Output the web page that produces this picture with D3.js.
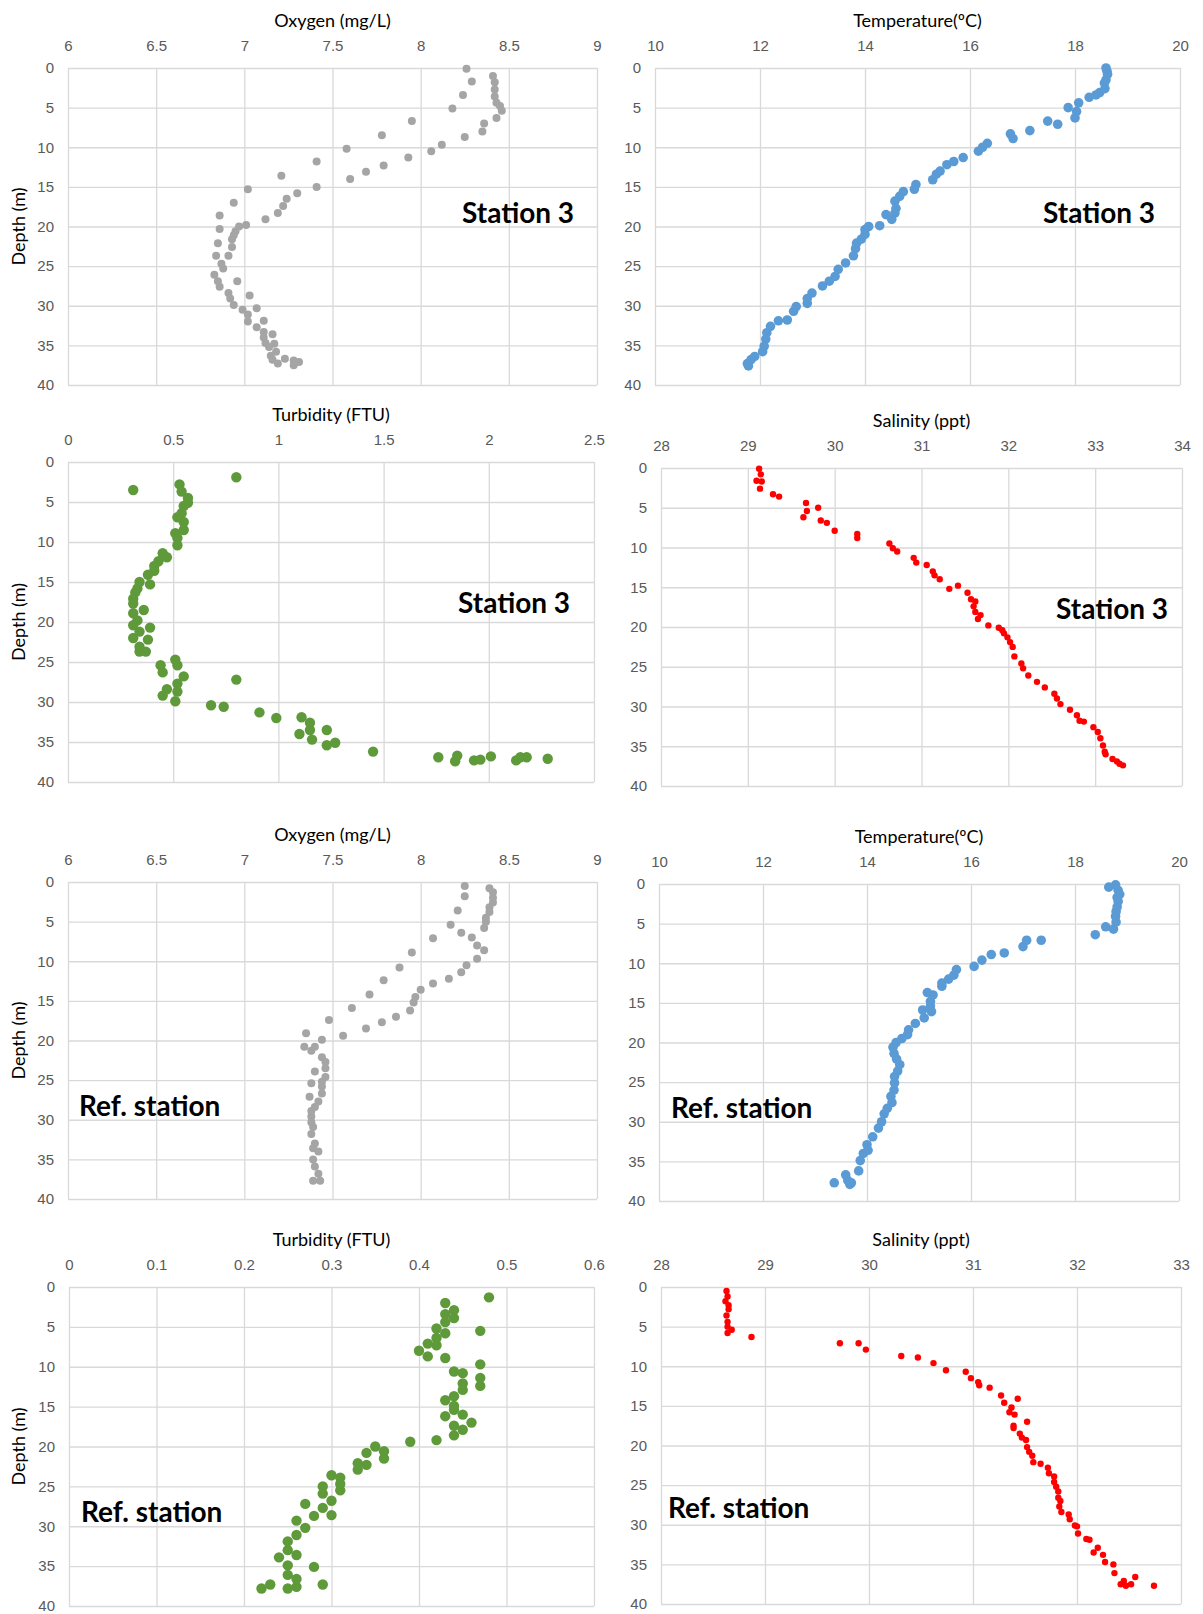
<!DOCTYPE html>
<html>
<head>
<meta charset="utf-8">
<script src="https://cdn.jsdelivr.net/npm/d3@7"></script>
<style>
  body { margin: 0; background: #fff; }
  svg { display: block; font-family: Lato, "Open Sans", sans-serif; }
  .tick line { stroke: #d9d9d9; stroke-width: 1.3; }
  .tick text { fill: #595959; font-size: 15px; }
  .domain { display: none; }
</style>
</head>
<body>
<svg id="chart" width="1203" height="1614"></svg>
<script>
// each point is [value, depth (m)]
var oxySt3 = [
  [8.26,0.1],[8.41,1.0],[8.29,1.7],[8.42,1.8],[8.42,2.7],[8.24,3.4],[8.42,3.6],[8.43,4.4],
  [8.45,4.8],[8.18,5.1],[8.46,5.4],[8.43,6.3],[7.95,6.7],[8.36,7.0],[8.35,8.0],[7.78,8.5],
  [8.25,8.7],[8.12,9.7],[7.58,10.2],[8.06,10.5],[7.93,11.3],[7.41,11.8],[7.79,12.3],[7.69,13.1],
  [7.21,13.6],[7.60,14.0],[7.41,15.0],[7.02,15.3],[7.30,15.8],[7.24,16.5],[6.94,17.0],[7.22,17.4],
  [7.19,18.3],[6.86,18.6],[7.12,19.1],[7.01,19.8],[6.97,20.0],[6.86,20.3],[6.95,20.6],[6.94,21.1],
  [6.93,21.6],[6.85,22.1],[6.93,22.6],[6.84,23.7],[6.91,23.7],[6.87,24.7],[6.88,25.3],[6.83,26.1],
  [6.85,26.9],[6.96,26.9],[6.86,27.6],[6.91,28.4],[7.03,28.7],[6.92,29.1],[6.94,29.9],[7.07,30.3],
  [6.99,30.5],[7.02,31.1],[7.02,32.0],[7.11,31.9],[7.07,32.7],[7.11,33.3],[7.16,33.6],[7.11,34.0],
  [7.12,34.7],[7.17,34.8],[7.14,35.2],[7.18,35.8],[7.15,36.3],[7.23,36.7],[7.16,36.8],[7.28,36.9],
  [7.31,37.1],[7.19,37.3],[7.28,37.5]
];

var tempSt3 = [
  [18.59,0.0],[18.61,0.4],[18.62,0.8],[18.59,1.5],[18.56,1.9],[18.57,2.6],[18.47,3.1],[18.40,3.4],
  [18.27,3.7],[18.07,4.4],[17.87,5.0],[18.03,5.5],[18.00,6.3],[17.48,6.7],[17.67,7.1],[17.14,7.9],
  [16.77,8.3],[16.82,8.9],[16.33,9.5],[16.24,10.0],[16.16,10.5],[15.87,11.3],[15.69,11.8],[15.56,12.2],
  [15.43,13.0],[15.36,13.4],[15.29,14.1],[14.97,14.7],[14.94,15.3],[14.73,15.6],[14.66,16.2],[14.57,16.8],
  [14.59,17.7],[14.57,18.3],[14.40,18.5],[14.51,19.1],[14.28,19.9],[14.07,20.0],[14.00,20.4],[14.00,21.0],
  [13.93,21.6],[13.84,22.1],[13.82,22.8],[13.78,23.7],[13.63,24.6],[13.49,25.4],[13.43,26.3],[13.32,26.9],
  [13.19,27.5],[12.99,28.4],[12.90,29.1],[12.90,29.7],[12.69,30.1],[12.64,30.7],[12.52,31.8],[12.35,31.9],
  [12.20,32.6],[12.13,33.4],[12.11,34.2],[12.08,35.1],[12.05,35.8],[11.90,36.4],[11.83,36.8],[11.76,37.3],
  [11.78,37.6]
];

var turbSt3 = [
  [0.80,1.9],[0.53,2.8],[0.31,3.5],[0.54,3.7],[0.57,4.5],[0.57,5.1],[0.55,5.5],[0.54,6.4],
  [0.52,6.9],[0.55,7.5],[0.55,8.5],[0.51,8.9],[0.52,9.5],[0.52,10.4],[0.45,11.4],[0.47,11.9],
  [0.43,12.4],[0.41,13.0],[0.41,13.6],[0.38,14.1],[0.34,15.0],[0.39,15.3],[0.33,15.8],[0.32,16.3],
  [0.31,17.1],[0.31,17.7],[0.36,18.5],[0.31,18.9],[0.33,19.8],[0.31,20.4],[0.39,20.7],[0.34,21.2],
  [0.31,22.0],[0.38,22.2],[0.34,23.1],[0.37,23.7],[0.34,23.7],[0.51,24.7],[0.52,25.4],[0.44,25.4],
  [0.45,26.3],[0.55,26.8],[0.80,27.2],[0.52,27.7],[0.47,28.4],[0.52,28.7],[0.45,29.2],[0.51,29.9],
  [0.68,30.4],[0.74,30.6],[0.91,31.3],[0.99,32.0],[1.11,31.9],[1.15,32.6],[1.23,33.5],[1.15,33.5],
  [1.10,34.0],[1.16,34.7],[1.27,35.1],[1.23,35.4],[1.45,36.2],[1.76,36.9],[1.85,36.7],[1.84,37.4],
  [1.93,37.3],[1.96,37.2],[2.01,36.8],[2.13,37.3],[2.15,36.9],[2.18,36.9],[2.28,37.1]
];

var salSt3 = [
  [29.13,0.1],[29.15,0.8],[29.10,1.6],[29.16,1.7],[29.14,2.6],[29.29,3.3],[29.36,3.6],[29.67,4.4],
  [29.81,5.0],[29.68,5.4],[29.64,6.2],[29.84,6.6],[29.91,6.9],[30.00,7.9],[30.26,8.3],[30.26,8.8],
  [30.63,9.5],[30.67,10.1],[30.72,10.5],[30.91,11.3],[30.94,11.9],[31.06,12.2],[31.13,13.0],[31.15,13.5],
  [31.21,14.0],[31.42,14.8],[31.32,15.2],[31.53,15.7],[31.57,16.5],[31.62,16.8],[31.60,17.4],[31.62,18.1],
  [31.68,18.5],[31.65,19.0],[31.77,19.8],[31.89,20.1],[31.93,20.4],[31.95,20.8],[31.99,21.3],[32.02,21.9],
  [32.05,22.5],[32.07,23.7],[32.15,24.6],[32.17,25.2],[32.23,26.1],[32.33,26.9],[32.42,27.6],[32.53,28.4],
  [32.56,29.0],[32.60,29.7],[32.71,30.4],[32.79,31.1],[32.82,31.8],[32.87,31.9],[32.98,32.6],[33.03,33.2],
  [33.06,34.0],[33.09,34.9],[33.11,35.7],[33.12,36.0],[33.20,36.6],[33.25,36.9],[33.28,37.2],[33.32,37.4]
];

var oxyRef = [
  [8.25,0.5],[8.39,0.8],[8.41,1.3],[8.25,1.8],[8.41,2.0],[8.41,2.6],[8.39,3.2],[8.21,3.6],
  [8.39,3.8],[8.37,4.5],[8.37,5.0],[8.17,5.4],[8.36,5.8],[8.23,6.4],[8.29,7.0],[8.07,7.1],
  [8.32,8.0],[8.36,8.6],[7.95,8.9],[8.32,9.7],[8.26,10.5],[7.88,10.8],[8.23,11.4],[8.16,12.2],
  [7.79,12.4],[8.07,12.8],[8.00,13.6],[7.71,14.2],[7.97,14.5],[7.96,15.2],[7.61,15.9],[7.94,16.2],
  [7.86,17.0],[7.48,17.4],[7.78,17.7],[7.69,18.5],[7.35,19.1],[7.56,19.4],[7.44,19.9],[7.34,20.8],
  [7.40,20.8],[7.38,21.3],[7.44,22.1],[7.46,22.7],[7.46,23.5],[7.40,23.9],[7.46,24.6],[7.44,25.2],
  [7.38,25.4],[7.44,25.8],[7.44,26.7],[7.37,27.1],[7.42,27.7],[7.40,28.4],[7.38,28.9],[7.38,29.6],
  [7.38,30.3],[7.39,30.9],[7.38,31.8],[7.40,33.0],[7.39,33.6],[7.42,34.0],[7.39,35.0],[7.40,35.9],
  [7.42,36.8],[7.39,37.7],[7.43,37.7]
];

var tempRef = [
  [18.78,0.1],[18.65,0.4],[18.83,0.8],[18.86,1.3],[18.81,1.7],[18.83,2.2],[18.81,2.9],[18.79,3.5],
  [18.78,4.1],[18.79,4.8],[18.59,5.4],[18.74,5.7],[18.39,6.4],[17.07,7.1],[17.35,7.1],[17.00,7.9],
  [16.64,8.7],[16.39,8.9],[16.21,9.6],[16.06,10.4],[15.72,10.8],[15.67,11.5],[15.57,12.0],[15.44,12.5],
  [15.44,12.9],[15.16,13.7],[15.27,14.0],[15.22,14.8],[15.22,15.4],[15.07,15.9],[15.24,16.1],[15.10,16.9],
  [14.93,17.6],[14.80,18.4],[14.78,19.0],[14.67,19.5],[14.56,20.0],[14.50,20.6],[14.52,21.4],[14.57,22.1],
  [14.63,22.8],[14.59,23.6],[14.53,24.3],[14.53,25.1],[14.52,26.0],[14.46,26.8],[14.48,27.6],[14.39,28.3],
  [14.33,29.0],[14.28,30.0],[14.22,30.8],[14.11,31.9],[14.00,32.9],[14.02,33.6],[13.93,34.0],[13.87,34.9],
  [13.84,36.2],[13.59,36.7],[13.63,37.4],[13.70,37.7],[13.37,37.7],[13.67,37.9]
];

var turbRef = [
  [0.48,1.3],[0.43,2.0],[0.44,2.9],[0.43,3.4],[0.44,3.9],[0.43,4.4],[0.42,5.2],[0.47,5.5],
  [0.43,5.8],[0.42,6.4],[0.41,7.1],[0.42,7.3],[0.40,8.0],[0.41,8.7],[0.43,8.9],[0.47,9.7],
  [0.44,10.6],[0.45,10.8],[0.47,11.4],[0.45,12.1],[0.47,12.4],[0.45,12.9],[0.44,13.7],[0.43,14.2],
  [0.44,14.9],[0.44,15.4],[0.45,16.0],[0.43,16.2],[0.46,17.0],[0.44,17.4],[0.45,17.9],[0.44,18.6],
  [0.42,19.2],[0.39,19.4],[0.35,20.0],[0.36,20.6],[0.34,20.8],[0.36,21.5],[0.33,22.1],[0.34,22.3],
  [0.33,22.9],[0.30,23.6],[0.31,23.9],[0.31,24.7],[0.29,25.0],[0.31,25.5],[0.29,25.9],[0.30,26.8],
  [0.27,27.2],[0.29,27.7],[0.30,28.6],[0.28,28.7],[0.26,29.3],[0.27,30.2],[0.26,31.1],[0.25,31.9],
  [0.25,33.0],[0.26,33.6],[0.24,33.9],[0.25,34.9],[0.28,35.1],[0.25,36.1],[0.26,36.6],[0.23,37.3],
  [0.29,37.3],[0.26,37.6],[0.22,37.8],[0.25,37.8]
];

var salRef = [
  [28.63,0.5],[28.64,1.2],[28.62,1.8],[28.65,2.3],[28.65,2.8],[28.63,3.6],[28.64,4.4],[28.64,5.0],
  [28.68,5.4],[28.64,5.8],[28.87,6.3],[29.72,7.1],[29.90,7.1],[29.97,7.9],[30.31,8.7],[30.47,8.9],
  [30.62,9.6],[30.74,10.5],[30.93,10.7],[30.98,11.5],[31.05,12.0],[31.06,12.4],[31.16,12.7],[31.27,13.7],
  [31.43,14.1],[31.30,14.6],[31.37,15.2],[31.35,15.8],[31.40,16.1],[31.52,17.0],[31.39,17.5],[31.39,17.8],
  [31.45,18.5],[31.47,19.0],[31.51,19.3],[31.52,20.2],[31.54,20.8],[31.57,21.3],[31.58,22.1],[31.65,22.3],
  [31.72,22.8],[31.73,23.5],[31.78,23.9],[31.78,24.6],[31.80,25.2],[31.82,25.8],[31.82,26.6],[31.84,27.0],
  [31.83,27.7],[31.85,28.4],[31.92,28.7],[31.93,29.3],[31.98,30.1],[32.00,30.2],[32.01,31.1],[32.09,31.8],
  [32.12,31.9],[32.20,32.9],[32.16,33.5],[32.25,33.8],[32.27,34.7],[32.35,35.0],[32.36,36.1],[32.56,36.6],
  [32.45,37.1],[32.42,37.5],[32.52,37.5],[32.47,37.7],[32.74,37.7]
];

var depthDomain = [0, 40];

// panel layout: plot box, x domain, colours, station label
var panels = [
  {data: oxySt3,  title: "Oxygen (mg/L)",      xd: [6, 9],   nt: 6, color: "#a5a5a5", r: 4,
   box: [68, 68, 597, 385],    depth: true,  label: "Station 3",   lx: 462,  ly: 223},
  {data: tempSt3, title: "Temperature(\u00BAC)", xd: [10, 20], nt: 5, color: "#5b9bd5", r: 4.8,
   box: [655, 68, 1180, 385],  depth: false, label: "Station 3",   lx: 1043, ly: 223},
  {data: turbSt3, title: "Turbidity (FTU)",    xd: [0, 2.5], nt: 5, color: "#5f9a3a", r: 5.2,
   box: [68, 462, 594, 782],   depth: true,  label: "Station 3",   lx: 458,  ly: 613},
  {data: salSt3,  title: "Salinity (ppt)",     xd: [28, 34], nt: 6, color: "#ff0000", r: 3.2,
   box: [661, 468, 1182, 786], depth: false, label: "Station 3",   lx: 1056, ly: 619},
  {data: oxyRef,  title: "Oxygen (mg/L)",      xd: [6, 9],   nt: 6, color: "#a5a5a5", r: 4,
   box: [68, 882, 597, 1199],  depth: true,  label: "Ref. station", lx: 79,  ly: 1116},
  {data: tempRef, title: "Temperature(\u00BAC)", xd: [10, 20], nt: 5, color: "#5b9bd5", r: 4.8,
   box: [659, 884, 1179, 1201], depth: false, label: "Ref. station", lx: 671, ly: 1118},
  {data: turbRef, title: "Turbidity (FTU)",    xd: [0, 0.6], nt: 6, color: "#5f9a3a", r: 5.2,
   box: [69, 1287, 594, 1606], depth: true,  label: "Ref. station", lx: 81,  ly: 1522},
  {data: salRef,  title: "Salinity (ppt)",     xd: [28, 33], nt: 5, color: "#ff0000", r: 3.2,
   box: [661, 1287, 1181, 1604], depth: false, label: "Ref. station", lx: 668, ly: 1518}
];

var svg = d3.select("#chart");
var fmt = d3.format("~g");

panels.forEach(function(p) {
  var x0 = p.box[0], y0 = p.box[1], x1 = p.box[2], y1 = p.box[3];
  var w = x1 - x0, h = y1 - y0;

  var x = d3.scaleLinear().domain(p.xd).range([0, w]);
  var y = d3.scaleLinear().domain(depthDomain).range([0, h]);

  var g = svg.append("g")
    .attr("transform", "translate(" + x0 + "," + y0 + ")");

  // top axis with vertical gridlines
  g.append("g")
    .call(d3.axisTop(x).ticks(p.nt).tickFormat(fmt)
      .tickSizeInner(-h).tickSizeOuter(0).tickPadding(17));

  // depth axis with horizontal gridlines
  g.append("g")
    .call(d3.axisLeft(y).ticks(8).tickFormat(fmt)
      .tickSizeInner(-w).tickSizeOuter(0).tickPadding(14));

  // axis title
  g.append("text")
    .attr("x", w / 2)
    .attr("y", -41)
    .attr("text-anchor", "middle")
    .style("font-size", "18px")
    .style("fill", "#000")
    .text(p.title);

  if(p.depth) {
    svg.append("text")
      .attr("transform", "translate(25," + (y0 + h / 2) + ")rotate(-90)")
      .attr("text-anchor", "middle")
      .style("font-size", "18px")
      .style("fill", "#000")
      .text("Depth (m)");
  }

  g.selectAll(".pt")
    .data(p.data)
    .enter().append("circle")
      .attr("class", "pt")
      .attr("cx", function(d) { return x(d[0]); })
      .attr("cy", function(d) { return y(d[1]); })
      .attr("r", p.r)
      .style("fill", p.color);

  svg.append("text")
    .attr("x", p.lx)
    .attr("y", p.ly)
    .style("font-size", "28px")
    .style("font-weight", "bold")
    .style("fill", "#000")
    .text(p.label);
});
</script>
</body>
</html>
